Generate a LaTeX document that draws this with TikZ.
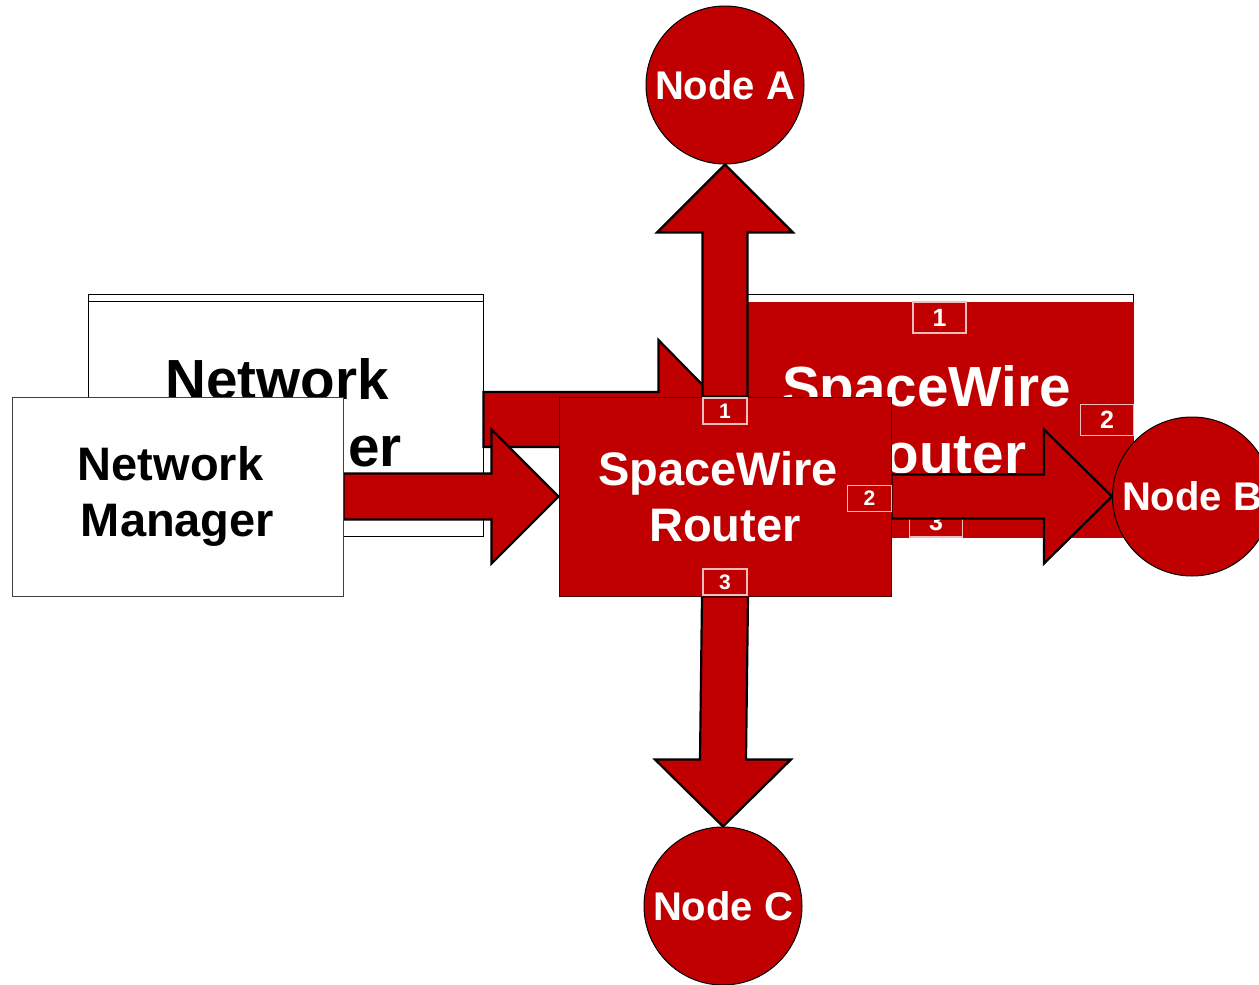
\documentclass[tikz,border=0pt]{standalone}
\usepackage{fontspec}
\setmainfont{Liberation Sans}
\usetikzlibrary{calc}
\pgfdeclarelayer{back}
\pgfdeclarelayer{arrows}
\pgfsetlayers{back,arrows,main}
\definecolor{swred}{RGB}{192,0,0}
\definecolor{portline}{RGB}{240,190,190}
\definecolor{rborder}{RGB}{70,0,0}
\newcommand{\lsh}[1]{#1\hspace*{7pt}}
\newcommand{\lshb}[1]{#1\hspace*{8.5pt}}
\begin{document}
\begin{tikzpicture}[x=0.5pt,y=-0.5pt,
  strip/.style={draw=black, line width=0.5pt, fill=white},
  mgrbox/.style={draw=black!75, line width=0.5pt, fill=white, inner sep=0pt, align=center,
    font=\bfseries\fontsize{23.5}{28}\selectfont, text=black},
  backmgr/.style={mgrbox, draw=black, font=\bfseries\fontsize{28.3}{33.5}\selectfont},
  routerbox/.style={draw=rborder, line width=0.5pt, fill=swred, inner sep=0pt, align=center,
    font=\bfseries\fontsize{23.5}{28}\selectfont, text=white},
  backrouter/.style={routerbox, draw=swred, font=\bfseries\fontsize{28.3}{33.5}\selectfont},
  port/.style={draw=portline, line width=0.6pt, fill=swred, inner sep=0pt, text=white,
    minimum width=22pt, minimum height=13pt, font=\bfseries\fontsize{10.5}{12}\selectfont},
  backport/.style={port, minimum width=26.5pt, minimum height=15.5pt,
    font=\bfseries\fontsize{12.5}{15}\selectfont},
  endnode/.style={circle, draw=black, line width=0.5pt, fill=swred, inner sep=0pt,
    text=white, font=\bfseries\fontsize{20}{24}\selectfont},
  blockarrow/.style={draw=black, fill=swred, line width=1.1pt, line join=miter}
]
\useasboundingbox (0,0) rectangle (1259,985);

% ---------- back layer ----------
\begin{pgfonlayer}{back}
\draw[strip] (88,294) rectangle (483,302);
\node[backmgr, minimum width=197.5pt, minimum height=117.5pt] (NMb) at (285.5,418.5) {\lshb{Network}\\Manager};
\draw[strip] (737,294) rectangle (1133,302);
\node[backrouter, minimum width=198pt, minimum height=117.5pt] (Rb) at (935,419.5) {\lshb{SpaceWire}\\Router};
\node[backport] (pb1) at (939.5,317.5) {1};
\node[backport] (pb2) at (1107,420) {2};
\node[backport] (pb3) at (936,521.5) {3};
\draw[blockarrow] ($(NMb.east)+(0,-26.5)$) -- ($(Rb.west)+(-78,-27.5)$) -- ($(Rb.west)+(-78,-79.5)$)
  -- (Rb.west) -- ($(Rb.west)+(-78,79.5)$) -- ($(Rb.west)+(-78,27.5)$) -- ($(NMb.east)+(0,28.5)$) -- cycle;
\end{pgfonlayer}

% ---------- front nodes ----------
\node[endnode, minimum size=79pt] (A) at (725,85) {Node A};
\node[endnode, minimum size=79.5pt] (B) at (1192,496.5) {Node B};
\node[endnode, minimum size=79pt] (C) at (723,906) {Node C};
\node[mgrbox, minimum width=165.5pt, minimum height=99.5pt] (NM) at (177.5,496.5) {\lsh{Network}\\Manager};
\node[routerbox, minimum width=166pt, minimum height=99.5pt] (R) at (725,496.5) {\lsh{SpaceWire}\\Router};
\node[port] (p1) at (725,411) {1};
\node[port] (p2) at (869.5,498.5) {2};
\node[port] (p3) at (725,582) {3};

% ---------- front arrows ----------
\begin{pgfonlayer}{arrows}
\draw[blockarrow] ($(R.north)+(-22.5,0)$) -- ($(A.south)+(-22.5,68)$) -- ($(A.south)+(-68,68)$)
  -- (A.south) -- ($(A.south)+(68,68)$) -- ($(A.south)+(22.5,68)$) -- ($(R.north)+(22.5,0)$) -- cycle;
\draw[blockarrow] ($(R.south)+(-23,0)$) -- ($(C.north)+(-23,-67)$) -- ($(C.north)+(-68,-67)$)
  -- (C.north) -- ($(C.north)+(68,-67)$) -- ($(C.north)+(23,-67)$) -- ($(R.south)+(23,0)$) -- cycle;
\draw[blockarrow] ($(R.east)+(0,-22)$) -- ($(B.west)+(-68,-22)$) -- ($(B.west)+(-68,-67)$)
  -- (B.west) -- ($(B.west)+(-68,67)$) -- ($(B.west)+(-68,22)$) -- ($(R.east)+(0,22)$) -- cycle;
\draw[blockarrow] ($(NM.east)+(0,-23)$) -- ($(R.west)+(-67,-23)$) -- ($(R.west)+(-67,-67)$)
  -- (R.west) -- ($(R.west)+(-67,67)$) -- ($(R.west)+(-67,23)$) -- ($(NM.east)+(0,23)$) -- cycle;
\end{pgfonlayer}
\end{tikzpicture}
\end{document}
